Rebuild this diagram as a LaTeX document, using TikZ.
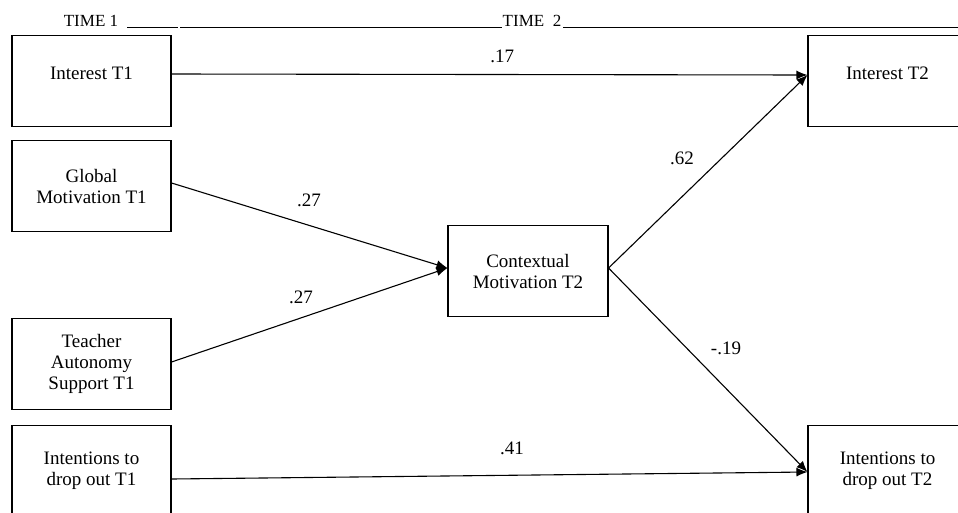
\documentclass[tikz,border=0pt]{standalone}
\usepackage{fontspec}
\setmainfont{Liberation Serif}
\usetikzlibrary{arrows.meta}
\begin{document}
\begin{tikzpicture}[x=1pt,y=-1pt,>={Latex[length=11pt,width=9pt]},
    box/.style={draw,line width=1.1pt,minimum width=159pt,minimum height=91pt,inner sep=2pt,align=center,font=\fontsize{19}{21}\selectfont},
    coef/.style={font=\fontsize{19}{21}\selectfont,inner sep=1pt},
    effect/.style={line width=1.1pt,->},
    rule/.style={line width=0.8pt}]
      \clip (0,0) rectangle (958,512);
      \node[anchor=base,font=\fontsize{17}{20}\selectfont] (time1) at (91,26) {TIME 1};
      \node[anchor=base,font=\fontsize{17}{20}\selectfont] (time2) at (532,26) {TIME\ \ 2};
      \draw[rule] (127,27) -- (178,27);
      \draw[rule] (180,27) -- (502,27);
      \draw[rule] (563,27) -- (958,27);
      \node[box,text depth=16pt] (int1) at (91.5,81) {Interest T1};
      \node[box] (glob1) at (91.5,186) {Global\\Motivation T1};
      \node[box] (auto1) at (91.5,364) {Teacher\\Autonomy\\Support T1};
      \node[box] (drop1) at (91.5,471) {Intentions to\\drop out T1};
      \node[box,minimum width=160pt] (ctx2) at (528,271) {Contextual\\Motivation T2};
      \node[box,text depth=16pt] (int2) at (887.5,81) {Interest T2};
      \node[box] (drop2) at (887.5,471) {Intentions to\\drop out T2};
      \draw[effect] ([yshift=7pt]int1.east) -- ([yshift=6pt]int2.west) node[coef,pos=0.52,above=10pt] (b17) {.17};
      \draw[effect] ([yshift=3pt]glob1.east) -- ([yshift=3pt]ctx2.west);
      \draw[effect] ([yshift=2pt]auto1.east) -- ([yshift=3pt]ctx2.west);
      \draw[effect] ([yshift=3pt]ctx2.east) -- ([yshift=6pt]int2.west);
      \draw[effect] ([yshift=3pt]ctx2.east) -- ([yshift=-1pt]drop2.west);
      \draw[effect] ([yshift=-8pt]drop1.east) -- ([yshift=-1pt]drop2.west);
      \node[coef] (b27a) at (309,200) {.27};
      \node[coef] (b27b) at (301,297) {.27};
      \node[coef] (b62) at (682,158) {.62};
      \node[coef] (b19) at (726,348) {-.19};
      \node[coef] (b41) at (512,448) {.41};
\end{tikzpicture}
\end{document}
